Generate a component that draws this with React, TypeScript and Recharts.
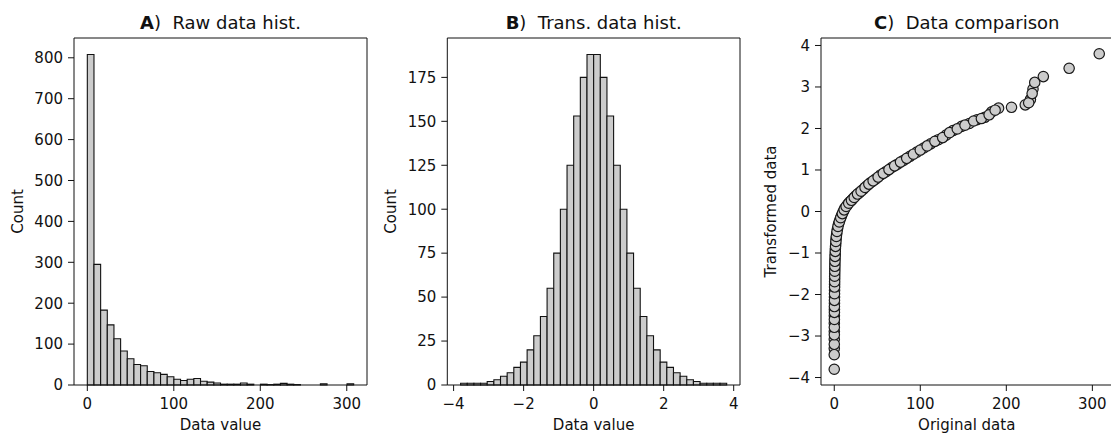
import React from "react";
import {
  ComposedChart, ScatterChart, Scatter, Line, XAxis, YAxis, ReferenceArea,
} from "recharts";

const FONT = "'DejaVu Sans', sans-serif";
const INK = "#111111";
const FILL = "#cccccc";

// Panel A: raw values, 40 equal bins over the data range
const rawRange = [0, 308];
const rawCounts = [
  808, 295, 183, 147, 113, 83, 64, 50, 47, 33,
  30, 26, 20, 14, 11, 14, 16, 9, 7, 5,
  2, 2, 2, 5, 2, 0, 2, 1, 2, 4,
  2, 1, 0, 0, 0, 3, 0, 0, 0, 3,
];
const rawXTicks = [0, 100, 200, 300];
const rawYTicks = [0, 100, 200, 300, 400, 500, 600, 700, 800];

// Panel B: transformed values, 40 equal bins
const transRange = [-3.8, 3.8];
const transCounts = [
  1, 1, 1, 1, 2, 3, 5, 7, 10, 13,
  20, 28, 39, 55, 75, 100, 125, 153, 175, 188,
  188, 175, 153, 125, 100, 75, 55, 39, 28, 20,
  13, 10, 7, 5, 3, 2, 1, 1, 1, 1,
];
const transXTicks = [-4, -2, 0, 2, 4];
const transYTicks = [0, 25, 50, 75, 100, 125, 150, 175];

// Panel C: original value vs transformed value
const comparisonPoints: [number, number][] = [
  [0, -3.8], [0, -3.45], [0.05, -3.3], [0.05, -3.2], [0.05, -3.08], [0.1, -2.97], [0.1, -2.89],
  [0.1, -2.79], [0.1, -2.69], [0.15, -2.6], [0.15, -2.51], [0.2, -2.43], [0.2, -2.36], [0.2, -2.29],
  [0.25, -2.21], [0.25, -2.14], [0.3, -2.06], [0.3, -1.98], [0.35, -1.9], [0.4, -1.82], [0.4, -1.75],
  [0.45, -1.69], [0.5, -1.62], [0.5, -1.56], [0.55, -1.5], [0.6, -1.44], [0.65, -1.38], [0.7, -1.32],
  [0.75, -1.26], [0.8, -1.2], [0.9, -1.14], [1.0, -1.08], [1.1, -1.02], [1.2, -0.96], [1.3, -0.9],
  [1.5, -0.84], [1.7, -0.78], [1.9, -0.72], [2.1, -0.66], [2.4, -0.6], [2.8, -0.54], [3.2, -0.48],
  [3.7, -0.42], [4.3, -0.36], [5.0, -0.3], [5.8, -0.25], [6.6, -0.2], [7.5, -0.15], [8.4, -0.1],
  [9.4, -0.05], [10.5, 0.0], [11.5, 0.04], [12.4, 0.08], [13.8, 0.12], [15.2, 0.16], [16.8, 0.2],
  [18.4, 0.24], [20.0, 0.27], [21.4, 0.3], [23.2, 0.34], [25.0, 0.38], [27.0, 0.42], [29.0, 0.45],
  [31.2, 0.49], [33.5, 0.53], [35.8, 0.58], [38.0, 0.62], [40.2, 0.66], [42.6, 0.7], [45.2, 0.74],
  [48.0, 0.78], [51.0, 0.83], [54.0, 0.88], [57.0, 0.92], [60.2, 0.96], [63.6, 1.01], [66.8, 1.06],
  [70.2, 1.1], [73.5, 1.14], [77.0, 1.19], [80.5, 1.23], [84.2, 1.28], [88.0, 1.33], [92.0, 1.38],
  [96.0, 1.43], [100, 1.48], [104, 1.53], [108, 1.58], [112, 1.63], [117, 1.69], [121, 1.73],
  [126, 1.78], [130, 1.84], [134, 1.9], [138, 1.95], [143, 1.99], [148, 2.05], [152, 2.08],
  [157, 2.12], [162, 2.18], [166, 2.21], [171, 2.24], [175, 2.27], [180, 2.33], [183, 2.4],
  [187, 2.44], [191, 2.49], [206, 2.51], [222, 2.57], [226, 2.62], [228, 2.7], [230, 2.84],
  [231, 2.95], [233, 3.11], [243, 3.25], [273, 3.45], [308, 3.8],
];
const compXTicks = [0, 100, 200, 300];
const compYTicks = [-4, -3, -2, -1, 0, 1, 2, 3, 4];

// matplotlib-style 5% padding around the data
const pad = (lo: number, hi: number): [number, number] => {
  const m = (hi - lo) * 0.05;
  return [lo - m, hi + m];
};

const fmt = (v: number) => (v < 0 ? `\u2212${Math.abs(v)}` : `${v}`);

const tickStyle = { fontSize: 15, fill: INK, fontFamily: FONT };

const titleContent = (letter: string, text: string) => (props: any) => {
  const vb = props.viewBox;
  return (
    <text x={vb.x + vb.width / 2} y={vb.y - 8.5} textAnchor="middle" fontSize={18}
      fontFamily={FONT} fill={INK} style={{ whiteSpace: "pre" }}>
      <tspan fontWeight="bold">{letter}</tspan>{`)  ${text}`}
    </text>
  );
};

const xLabelContent = (text: string) => (props: any) => {
  const vb = props.viewBox;
  return (
    <text x={vb.x + vb.width / 2} y={vb.y + 45} textAnchor="middle" fontSize={15}
      fontFamily={FONT} fill={INK}>{text}</text>
  );
};

const yLabelContent = (text: string, dx: number) => (props: any) => {
  const vb = props.viewBox;
  const cx = vb.x + dx;
  const cy = vb.y + vb.height / 2;
  return (
    <text x={cx} y={cy} transform={`rotate(-90, ${cx}, ${cy})`} textAnchor="middle"
      dominantBaseline="central" fontSize={15} fontFamily={FONT} fill={INK}>{text}</text>
  );
};

const dot = (p: any) => (
  <circle cx={p.cx} cy={p.cy} r={5.2} fill={FILL} stroke="#1a1a1a" strokeWidth={1.2} />
);

type HistProps = {
  counts: number[];
  range: number[];
  xTicks: number[];
  yTicks: number[];
  yWidth: number;
  yLabelDx: number;
  right: number;
  letter: string;
  title: string;
};

function Histogram({ counts, range, xTicks, yTicks, yWidth, yLabelDx, right, letter, title }: HistProps) {
  const step = (range[1] - range[0]) / counts.length;
  const bins = counts.map((c, i) => ({
    x0: range[0] + i * step,
    x1: range[0] + (i + 1) * step,
    mid: range[0] + (i + 0.5) * step,
    count: c,
  }));
  const xDomain = pad(range[0], range[1]);
  const yDomain: [number, number] = [0, Math.max(...counts) * 1.05];
  return (
    <ComposedChart width={380} height={434} data={bins}
      margin={{ top: 37, right: right - 1, bottom: 0, left: 0 }}>
      <XAxis xAxisId="b" dataKey="mid" type="number" domain={xDomain} ticks={xTicks} interval={0}
        allowDataOverflow height={49} tickFormatter={fmt} tick={tickStyle}
        tickSize={6} tickMargin={7} stroke={INK} label={{ content: xLabelContent("Data value") }} />
      <XAxis xAxisId="t" dataKey="mid" orientation="top" type="number" domain={xDomain} allowDataOverflow
        height={1} tick={false} tickLine={false} stroke={INK}
        label={{ content: titleContent(letter, title) }} />
      <YAxis yAxisId="l" type="number" domain={yDomain} ticks={yTicks} interval={0}
        allowDataOverflow width={yWidth} tick={tickStyle} tickSize={6} tickMargin={5}
        stroke={INK} label={{ content: yLabelContent("Count", yLabelDx) }} />
      <YAxis yAxisId="r" orientation="right" type="number" domain={yDomain} allowDataOverflow
        width={1} tick={false} tickLine={false} stroke={INK} />
      {/* carries the bin table onto both axes; the bars themselves are the areas below */}
      <Line xAxisId="b" yAxisId="l" dataKey="count" stroke="none" dot={false} activeDot={false}
        isAnimationActive={false} />
      <Line xAxisId="t" yAxisId="r" dataKey="count" stroke="none" dot={false} activeDot={false}
        isAnimationActive={false} />
      {bins.map((b, i) => (
        <ReferenceArea key={i} xAxisId="b" yAxisId="l" x1={b.x0} x2={b.x1} y1={0} y2={b.count}
          fill={FILL} fillOpacity={1} stroke={INK} strokeWidth={1.1} ifOverflow="visible" />
      ))}
    </ComposedChart>
  );
}

function Comparison() {
  const data = comparisonPoints.map(([x, y]) => ({ x, y }));
  // draw in two interleaved passes so outlines overlap the way an unsorted scatter does
  const layered = [...data.filter((_, i) => i % 2 === 0), ...data.filter((_, i) => i % 2 === 1)];
  const xDomain = pad(0, 308);
  const yDomain = pad(-3.8, 3.8);
  return (
    <ScatterChart width={380} height={434} margin={{ top: 37, right: 6.5, bottom: 0, left: 0 }}>
      <XAxis xAxisId="b" dataKey="x" type="number" domain={xDomain} ticks={compXTicks} interval={0}
        allowDataOverflow height={49} tick={tickStyle} tickSize={6} tickMargin={7} stroke={INK}
        label={{ content: xLabelContent("Original data") }} />
      <XAxis xAxisId="t" dataKey="x" orientation="top" type="number" domain={xDomain} allowDataOverflow
        height={1} tick={false} tickLine={false} stroke={INK}
        label={{ content: titleContent("C", "Data comparison") }} />
      <YAxis yAxisId="l" dataKey="y" type="number" domain={yDomain} ticks={compYTicks} interval={0}
        allowDataOverflow width={81} tick={tickStyle} tickFormatter={fmt} tickSize={6} tickMargin={5}
        stroke={INK} label={{ content: yLabelContent("Transformed data", 30.7) }} />
      <YAxis yAxisId="r" dataKey="y" orientation="right" type="number" domain={yDomain} allowDataOverflow
        width={1} tick={false} tickLine={false} stroke={INK} />
      <Scatter xAxisId="b" yAxisId="l" data={layered} shape={dot} isAnimationActive={false} />
      <Scatter xAxisId="t" yAxisId="r" data={data} shape={() => <g />} isAnimationActive={false} />
    </ScatterChart>
  );
}

export default function App() {
  return (
    <div style={{ position: "fixed", left: 0, top: 0, width: 1111, height: 434, overflow: "hidden", background: "#fff" }}>
      <div style={{ position: "absolute", left: 0, top: 0 }}>
        <Histogram counts={rawCounts} range={rawRange} xTicks={rawXTicks} yTicks={rawYTicks}
          yWidth={74} yLabelDx={17.8} right={13} letter="A" title="Raw data hist." />
      </div>
      <div style={{ position: "absolute", left: 370, top: 0 }}>
        <Histogram counts={transCounts} range={transRange} xTicks={transXTicks} yTicks={transYTicks}
          yWidth={77.3} yLabelDx={21.2} right={10} letter="B" title="Trans. data hist." />
      </div>
      <div style={{ position: "absolute", left: 740, top: 0 }}>
        <Comparison />
      </div>
    </div>
  );
}
